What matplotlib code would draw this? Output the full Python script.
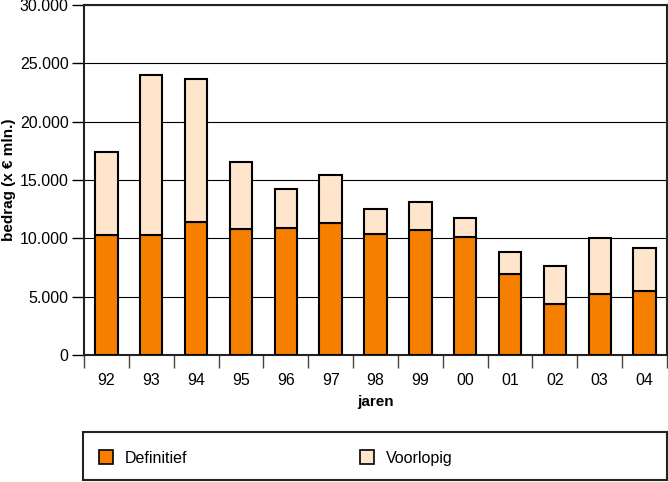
import matplotlib.pyplot as plt
import numpy as np
from matplotlib.patches import Patch, Rectangle

plt.rcParams['font.family'] = ['Liberation Sans', 'DejaVu Sans']

# jaren en bedragen (x € mln.)
jaren = ['92', '93', '94', '95', '96', '97', '98', '99', '00', '01', '02', '03', '04']
definitief = [10300, 10300, 11400, 10800, 10900, 11300, 10400, 10750, 10100, 6970, 4350, 5250, 5500]
totaal = [17400, 24000, 23700, 16550, 14250, 15450, 12550, 13100, 11750, 8850, 7600, 10050, 9150]
voorlopig = [t - d for t, d in zip(totaal, definitief)]

oranje = '#F77F00'
licht = '#FFE5CC'

fig = plt.figure(figsize=(6.68, 4.82), dpi=100)
ax = fig.add_axes([0.1257, 0.2635, 0.8728, 0.7261])

x = np.arange(len(jaren))
ax.bar(x, definitief, width=0.5, color=oranje, edgecolor='black', linewidth=1.5, zorder=3)
ax.bar(x, voorlopig, width=0.5, bottom=definitief, color=licht, edgecolor='black', linewidth=1.5, zorder=3)

ax.set_xlim(-0.5, len(jaren) - 0.5)
ax.set_ylim(0, 30000)
ax.set_yticks(range(0, 30001, 5000))
ax.set_yticklabels(['0', '5.000', '10.000', '15.000', '20.000', '25.000', '30.000'], fontsize=11.5)
ax.yaxis.grid(True, color='black', linewidth=0.8, zorder=0)

# grenzen tussen jaren als ticks, labels in het midden
ax.set_xticks(np.arange(-0.5, len(jaren), 1.0))
ax.set_xticklabels([])
ax.set_xticks(x, minor=True)
ax.set_xticklabels(jaren, minor=True, fontsize=11.5)
ax.tick_params(axis='x', which='major', length=9, width=1, color='#444')
ax.tick_params(axis='x', which='minor', length=0, pad=13)
ax.tick_params(axis='y', length=9, width=1, pad=2)

for s in ax.spines.values():
    s.set_linewidth(1.5)
    s.set_color('#222')

ax.set_xlabel('jaren', fontsize=11, fontweight='bold', labelpad=5)
ax.set_ylabel('bedrag (x € mln.)', fontsize=11, fontweight='bold', labelpad=3)

# legenda: kader + twee items
fig.patches.append(Rectangle((83 / 668, 2 / 482), 584 / 668, 48 / 482, transform=fig.transFigure,
                             facecolor='white', edgecolor='#222', linewidth=1.5))
items = [(Patch(facecolor=oranje, edgecolor='black', linewidth=1.2, label='Definitief'), 99 / 668),
         (Patch(facecolor=licht, edgecolor='black', linewidth=1.2, label='Voorlopig'), 360 / 668)]
for h, xpos in items:
    fig.legend(handles=[h], loc='center left', bbox_to_anchor=(xpos, 24 / 482), frameon=False,
               fontsize=11.5, handlelength=0.9, handleheight=0.9, handletextpad=0.7,
               borderpad=0, borderaxespad=0)

fig.savefig('out.png', dpi=100)
